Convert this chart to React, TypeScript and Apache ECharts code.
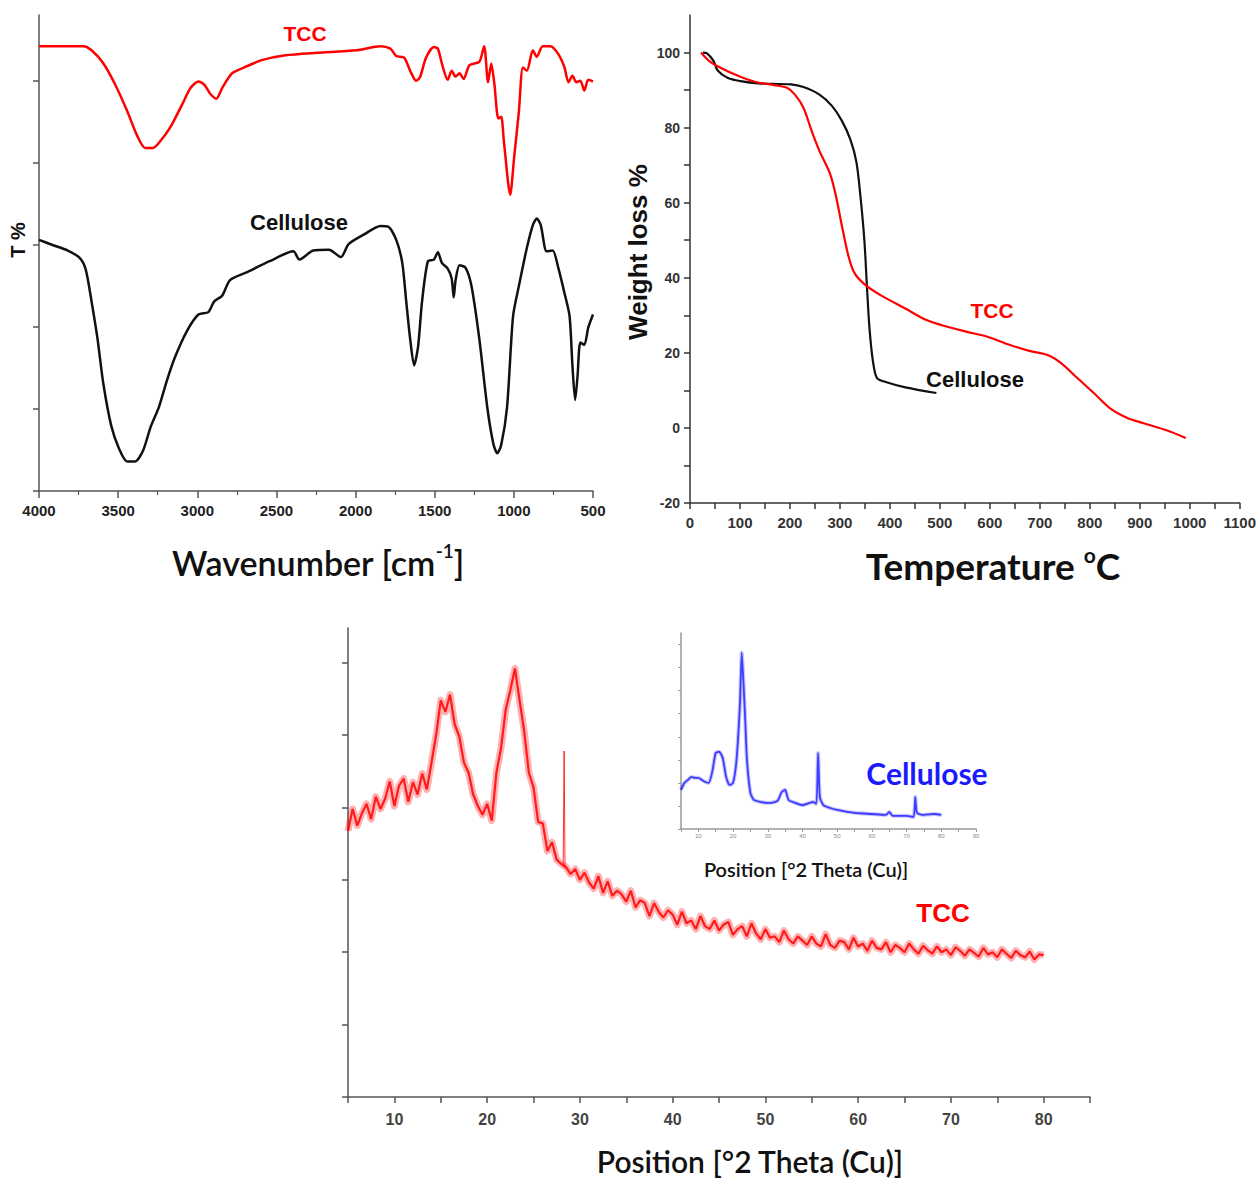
import React, { useEffect, useRef } from "react";
import * as echarts from "echarts";

// ---------- FTIR (wavenumber cm-1, transmittance a.u.) ----------
const ftirTcc: [number, number][] = [
  [4000, 54.2], [3718, 54.2], [3668, 53.7], [3593, 52.1], [3518, 49.5], [3443, 46.3],
  [3380, 43.3], [3330, 41.8], [3280, 41.8], [3243, 42.4], [3168, 44.4], [3093, 47.2],
  [3043, 49.1], [2993, 49.9], [2955, 49.5], [2918, 48.4], [2880, 47.8], [2843, 49.1],
  [2780, 50.9], [2693, 51.7], [2593, 52.5], [2443, 53.1], [2243, 53.4], [1993, 53.7],
  [1843, 54.2], [1780, 53.9], [1743, 53.0], [1693, 52.8], [1655, 51.2], [1618, 50.0],
  [1593, 50.4], [1555, 52.8], [1505, 54.1], [1480, 53.9], [1455, 52.1], [1418, 50.1],
  [1393, 51.2], [1368, 50.5], [1343, 50.9], [1318, 50.2], [1280, 51.9], [1218, 52.3],
  [1188, 54.2], [1163, 49.8], [1143, 52.1], [1123, 49.6], [1098, 45.4], [1080, 45.6],
  [1063, 42.6], [1023, 36.1], [998, 40.7], [968, 46.3], [943, 51.6], [918, 51.2],
  [880, 53.7], [855, 52.9], [818, 54.2], [768, 54.2], [718, 53.2], [680, 51.6],
  [655, 49.8], [630, 50.6], [605, 49.8], [580, 50.0], [555, 48.8], [530, 50.1], [500, 49.9],
];
const ftirCellulose: [number, number][] = [
  [4000, 30.6], [3918, 30.0], [3818, 29.3], [3743, 28.4], [3705, 27.0], [3668, 23.1],
  [3630, 18.5], [3593, 13.0], [3543, 7.9], [3493, 5.1], [3443, 3.6], [3393, 3.6],
  [3343, 4.9], [3293, 7.9], [3243, 10.2], [3193, 13.4], [3143, 16.2], [3068, 19.4],
  [2993, 21.5], [2930, 21.8], [2893, 23.1], [2843, 23.8], [2793, 25.7], [2693, 26.6],
  [2543, 28.0], [2393, 29.2], [2355, 28.2], [2268, 29.3], [2168, 29.4], [2093, 28.5],
  [2043, 30.1], [1943, 31.3], [1843, 32.3], [1793, 32.2], [1743, 30.6], [1705, 27.8],
  [1680, 23.1], [1655, 18.5], [1630, 15.3], [1605, 17.6], [1580, 23.1], [1543, 28.0],
  [1505, 28.2], [1480, 29.1], [1455, 27.8], [1418, 27.1], [1393, 25.9], [1380, 23.6],
  [1368, 25.7], [1343, 27.5], [1305, 27.2], [1268, 25.0], [1218, 18.5], [1168, 10.2],
  [1130, 5.8], [1105, 4.6], [1080, 5.6], [1043, 10.2], [1005, 21.3], [968, 25.0],
  [918, 29.6], [880, 32.4], [855, 33.2], [830, 32.4], [793, 29.2], [755, 29.3],
  [718, 27.1], [680, 24.1], [648, 21.3], [630, 15.3], [613, 11.1], [598, 13.9],
  [580, 18.1], [555, 17.8], [530, 19.9], [500, 21.5],
];
const ftirYTicks = [0, 10, 20, 30, 40, 50];

// ---------- TGA (temperature °C, weight %) ----------
const tgaCellulose: [number, number][] = [
  [26, 100], [34, 99.8], [47, 97.8], [55, 95.3], [75, 93.3], [104, 92.3], [137, 91.8],
  [202, 91.5], [227, 90.8], [259, 88.8], [284, 85.8], [304, 81.8], [321, 76.8],
  [333, 70.8], [341, 61.8], [349, 49.8], [354, 37.8], [359, 26.8], [366, 17.8],
  [374, 13.3], [390, 12.3], [431, 10.8], [493, 9.3],
];
const tgaTcc: [number, number][] = [
  [22, 100], [38, 97.8], [63, 95.8], [96, 93.8], [128, 92.3], [169, 91.3], [194, 90.6],
  [210, 88.8], [227, 85.3], [243, 79.3], [259, 73.8], [280, 67.8], [292, 61.8],
  [304, 53.8], [317, 45.8], [329, 41.3], [349, 38.3], [382, 35.3], [431, 31.8],
  [472, 28.8], [513, 27.0], [554, 25.6], [595, 24.3], [636, 22.3], [677, 20.6],
  [718, 19.3], [742, 17.3], [775, 13.3], [808, 9.3], [840, 5.3], [873, 2.8],
  [906, 1.3], [955, -0.7], [992, -2.7],
];
const tgaYTicks = [-20, -10, 0, 10, 20, 30, 40, 50, 60, 70, 80, 90, 100];
const tgaYLabels = [-20, 0, 20, 40, 60, 80, 100];
const tgaXLabels = [0, 100, 200, 300, 400, 500, 600, 700, 800, 900, 1000, 1100];

// ---------- XRD TCC (2θ from 5° in 0.5° steps, intensity a.u.) ----------
const xrdStart = 5;
const xrdStep = 0.5;
const xrdTcc = [
  368, 398, 375, 392, 405, 384, 415, 398, 412, 436,
  402, 430, 440, 408, 435, 418, 447, 425, 462, 500,
  548, 532, 556, 515, 498, 462, 448, 418, 402, 390,
  405, 382, 448, 482, 535, 562, 592, 548, 505, 448,
  428, 380, 378, 340, 352, 328, 322, 318, 308, 315,
  300, 310, 296, 288, 305, 282, 298, 278, 285, 280,
  270, 285, 262, 272, 268, 250, 268, 256, 248, 258,
  252, 238, 256, 240, 244, 232, 250, 236, 232, 244,
  230, 238, 242, 224, 232, 236, 222, 240, 226, 218,
  232, 220, 222, 214, 230, 218, 212, 222, 216, 210,
  222, 212, 208, 225, 210, 206, 216, 214, 204, 220,
  208, 212, 202, 216, 206, 204, 214, 200, 210, 206,
  200, 212, 204, 198, 209, 203, 198, 208, 200, 204,
  196, 207, 202, 195, 204, 199, 194, 206, 197, 200,
  193, 204, 198, 192, 202, 196, 193, 201, 190, 197,
  196,
];
const xrdSpike: [number, number][] = [[28.2, 318], [28.3, 478], [28.4, 316]];
const xrdYTicks = [0, 100, 200, 300, 400, 500, 600];
const xrdXLabels = [10, 20, 30, 40, 50, 60, 70, 80];

// ---------- XRD inset, cellulose ----------
const xrdCellulose: [number, number][] = [
  [5, 1.7], [6, 2.0], [7, 2.13], [8, 2.26], [9, 2.22], [10, 2.22], [11, 2.13], [12, 2.04],
  [13, 2.0], [14, 2.48], [15, 3.3], [16, 3.35], [17, 3.09], [18, 2.26], [19, 1.91],
  [20, 2.0], [21, 3.0], [22, 5.48], [22.5, 7.65], [23, 6.35], [23.5, 4.74], [24, 3.0],
  [25, 1.57], [26, 1.26], [28, 1.17], [30, 1.13], [32, 1.17], [33, 1.26], [34, 1.6],
  [35, 1.7], [36, 1.26], [38, 1.13], [40, 1.04], [42, 1.13], [43, 1.17], [44, 1.09],
  [44.5, 3.3], [45, 1.39], [46, 1.04], [48, 0.91], [50, 0.83], [55, 0.7], [60, 0.65],
  [64, 0.61], [65, 0.74], [66, 0.57], [70, 0.57], [72, 0.52], [72.5, 1.39], [73, 0.7],
  [75, 0.61], [78, 0.65], [80, 0.61],
];
const insetYTicks = [0, 1, 2, 3, 4, 5, 6, 7, 8];
const insetXLabels = [10, 20, 30, 40, 50, 60, 70, 80, 90];

const RED = "#ff0000";
const BLUE = "#1a1aff";
const LAB = "Liberation Sans, Arial, sans-serif";
const CAL = "Lato, sans-serif";
const plain = (v: number) => String(v);

function axisBase(color: string) {
  return {
    axisLine: { show: true, onZero: false, lineStyle: { color, width: 1.5 } },
    splitLine: { show: false },
  };
}

export default function App() {
  const ref = useRef<HTMLDivElement>(null);
  useEffect(() => {
    if (!ref.current) return;
    const chart = echarts.init(ref.current, undefined, { renderer: "svg" });
    const xrdData = xrdTcc.map((v, i) => [xrdStart + i * xrdStep, v]);

    const tickLabel = (size: number, color: string) => ({
      fontFamily: LAB,
      fontWeight: "bold" as const,
      fontSize: size,
      color,
      formatter: plain,
    });

    const option: any = {
      animation: false,
      backgroundColor: "#ffffff",
      grid: [
        { left: 39, top: 15, width: 554, height: 476 },
        { left: 690, top: 15, width: 550, height: 488 },
        { left: 348, top: 628, width: 742, height: 469 },
        { left: 681, top: 633, width: 295, height: 196 },
      ],
      xAxis: [
        {
          gridIndex: 0, type: "value", min: 500, max: 4000, interval: 500, inverse: true,
          ...axisBase("#555"),
          axisTick: { show: true, length: 7, lineStyle: { color: "#555", width: 1.5 } },
          minorTick: { show: true, splitNumber: 2, length: 4, lineStyle: { color: "#555", width: 1.2 } },
          axisLabel: { ...tickLabel(15, "#222"), margin: 12 },
        },
        {
          gridIndex: 1, type: "value", min: 0, max: 1100, interval: 50,
          ...axisBase("#333"),
          axisTick: { show: true, length: 6, lineStyle: { color: "#333", width: 1.5 } },
          axisLabel: { ...tickLabel(15, "#333"), margin: 12, customValues: tgaXLabels },
        },
        {
          gridIndex: 2, type: "value", min: 5, max: 85, interval: 5,
          ...axisBase("#555"),
          axisTick: { show: true, length: 6, lineStyle: { color: "#555", width: 1.5 } },
          axisLabel: { ...tickLabel(16, "#444"), margin: 14, customValues: xrdXLabels },
        },
        {
          gridIndex: 3, type: "value", min: 5, max: 90, interval: 5,
          ...axisBase("#999"),
          axisTick: { show: true, length: 3, lineStyle: { color: "#999", width: 1 } },
          axisLabel: { fontFamily: LAB, fontSize: 6, color: "#888", margin: 4, customValues: insetXLabels, formatter: plain },
        },
      ],
      yAxis: [
        {
          gridIndex: 0, type: "value", min: 0, max: 58,
          ...axisBase("#555"),
          axisTick: { show: true, length: 6, lineStyle: { color: "#555", width: 1.5 }, customValues: ftirYTicks },
          axisLabel: { show: false },
        },
        {
          gridIndex: 1, type: "value", min: -20, max: 110,
          ...axisBase("#333"),
          axisTick: { show: true, length: 6, lineStyle: { color: "#333", width: 1.5 }, customValues: tgaYTicks },
          axisLabel: { ...tickLabel(14, "#333"), margin: 10, customValues: tgaYLabels },
        },
        {
          gridIndex: 2, type: "value", min: 0, max: 648,
          ...axisBase("#555"),
          axisTick: { show: true, length: 6, lineStyle: { color: "#555", width: 1.5 }, customValues: xrdYTicks },
          axisLabel: { show: false },
        },
        {
          gridIndex: 3, type: "value", min: 0, max: 8.5,
          ...axisBase("#999"),
          axisTick: { show: true, length: 3, lineStyle: { color: "#999", width: 1 }, customValues: insetYTicks },
          axisLabel: { show: false },
        },
      ],
      series: [
        {
          type: "line", xAxisIndex: 0, yAxisIndex: 0, data: ftirTcc, showSymbol: false,
          smooth: 0.25, lineStyle: { color: RED, width: 2.5 }, z: 3,
        },
        {
          type: "line", xAxisIndex: 0, yAxisIndex: 0, data: ftirCellulose, showSymbol: false,
          smooth: 0.25, lineStyle: { color: "#111", width: 2.5 }, z: 3,
        },
        {
          type: "line", xAxisIndex: 1, yAxisIndex: 1, data: tgaCellulose, showSymbol: false,
          smooth: 0.3, lineStyle: { color: "#111", width: 2.2 }, z: 3,
        },
        {
          type: "line", xAxisIndex: 1, yAxisIndex: 1, data: tgaTcc, showSymbol: false,
          smooth: 0.3, lineStyle: { color: RED, width: 2.2 }, z: 4,
        },
        {
          type: "line", xAxisIndex: 2, yAxisIndex: 2, data: xrdData, showSymbol: false,
          lineStyle: { color: RED, width: 7, opacity: 0.3, join: "round" }, z: 2,
        },
        {
          type: "line", xAxisIndex: 2, yAxisIndex: 2, data: xrdData, showSymbol: false,
          lineStyle: { color: RED, width: 2.2, opacity: 0.85 }, z: 3,
        },
        {
          type: "line", xAxisIndex: 2, yAxisIndex: 2, data: xrdSpike, showSymbol: false,
          lineStyle: { color: RED, width: 1, opacity: 0.8 }, z: 3,
        },
        {
          type: "line", xAxisIndex: 3, yAxisIndex: 3, data: xrdCellulose, showSymbol: false,
          smooth: 0.2, lineStyle: { color: BLUE, width: 4, opacity: 0.25 }, z: 2,
        },
        {
          type: "line", xAxisIndex: 3, yAxisIndex: 3, data: xrdCellulose, showSymbol: false,
          smooth: 0.2, lineStyle: { color: BLUE, width: 1.8, opacity: 0.8 }, z: 3,
        },
      ],
      graphic: [
        { type: "text", x: 305, y: 33, style: { text: "TCC", fill: RED, font: `bold 21px ${LAB}`, align: "center", verticalAlign: "middle" } },
        { type: "text", x: 299, y: 222, style: { text: "Cellulose", fill: "#111", font: `bold 22px ${LAB}`, align: "center", verticalAlign: "middle" } },
        { type: "text", x: 18, y: 240, rotation: Math.PI / 2, style: { text: "T %", fill: "#111", font: `bold 20px ${LAB}`, align: "center", verticalAlign: "middle" } },
        {
          type: "text", x: 318, y: 560,
          style: {
            text: "{a|Wavenumber [cm}{s|-1}{a|]}", align: "center", verticalAlign: "middle",
            rich: {
              a: { fontFamily: CAL, fontWeight: 600, fontSize: 34, fill: "#111", lineHeight: 38, verticalAlign: "bottom" },
              s: { fontFamily: CAL, fontWeight: 600, fontSize: 19, fill: "#111", lineHeight: 38, verticalAlign: "top" },
            },
          },
        },
        { type: "text", x: 638, y: 252, rotation: Math.PI / 2, style: { text: "Weight loss %", fill: "#111", font: `bold 26px ${LAB}`, align: "center", verticalAlign: "middle" } },
        { type: "text", x: 992, y: 310, style: { text: "TCC", fill: RED, font: `bold 21px ${LAB}`, align: "center", verticalAlign: "middle" } },
        { type: "text", x: 975, y: 379, style: { text: "Cellulose", fill: "#111", font: `bold 22px ${LAB}`, align: "center", verticalAlign: "middle" } },
        {
          type: "text", x: 993, y: 564,
          style: {
            text: "{a|Temperature }{s|o}{a|C}", align: "center", verticalAlign: "middle",
            rich: {
              a: { fontFamily: CAL, fontWeight: "bold", fontSize: 37, fill: "#111", lineHeight: 40, verticalAlign: "bottom" },
              s: { fontFamily: CAL, fontWeight: "bold", fontSize: 21, fill: "#111", lineHeight: 40, verticalAlign: "top" },
            },
          },
        },
        { type: "text", x: 927, y: 773, style: { text: "Cellulose", fill: BLUE, font: `bold 30px ${CAL}`, align: "center", verticalAlign: "middle" } },
        { type: "text", x: 806, y: 869, style: { text: "Position [°2 Theta (Cu)]", fill: "#111", font: `600 20px ${CAL}`, align: "center", verticalAlign: "middle" } },
        { type: "text", x: 943, y: 913, style: { text: "TCC", fill: RED, font: `bold 26px ${LAB}`, align: "center", verticalAlign: "middle" } },
        { type: "text", x: 750, y: 1161, style: { text: "Position [°2 Theta (Cu)]", fill: "#111", font: `600 30px ${CAL}`, align: "center", verticalAlign: "middle" } },
      ],
    };
    chart.setOption(option);
    return () => chart.dispose();
  }, []);
  return (
    <div
      ref={ref}
      style={{ position: "absolute", left: 0, top: 0, width: 1259, height: 1180, background: "#fff" }}
    />
  );
}
